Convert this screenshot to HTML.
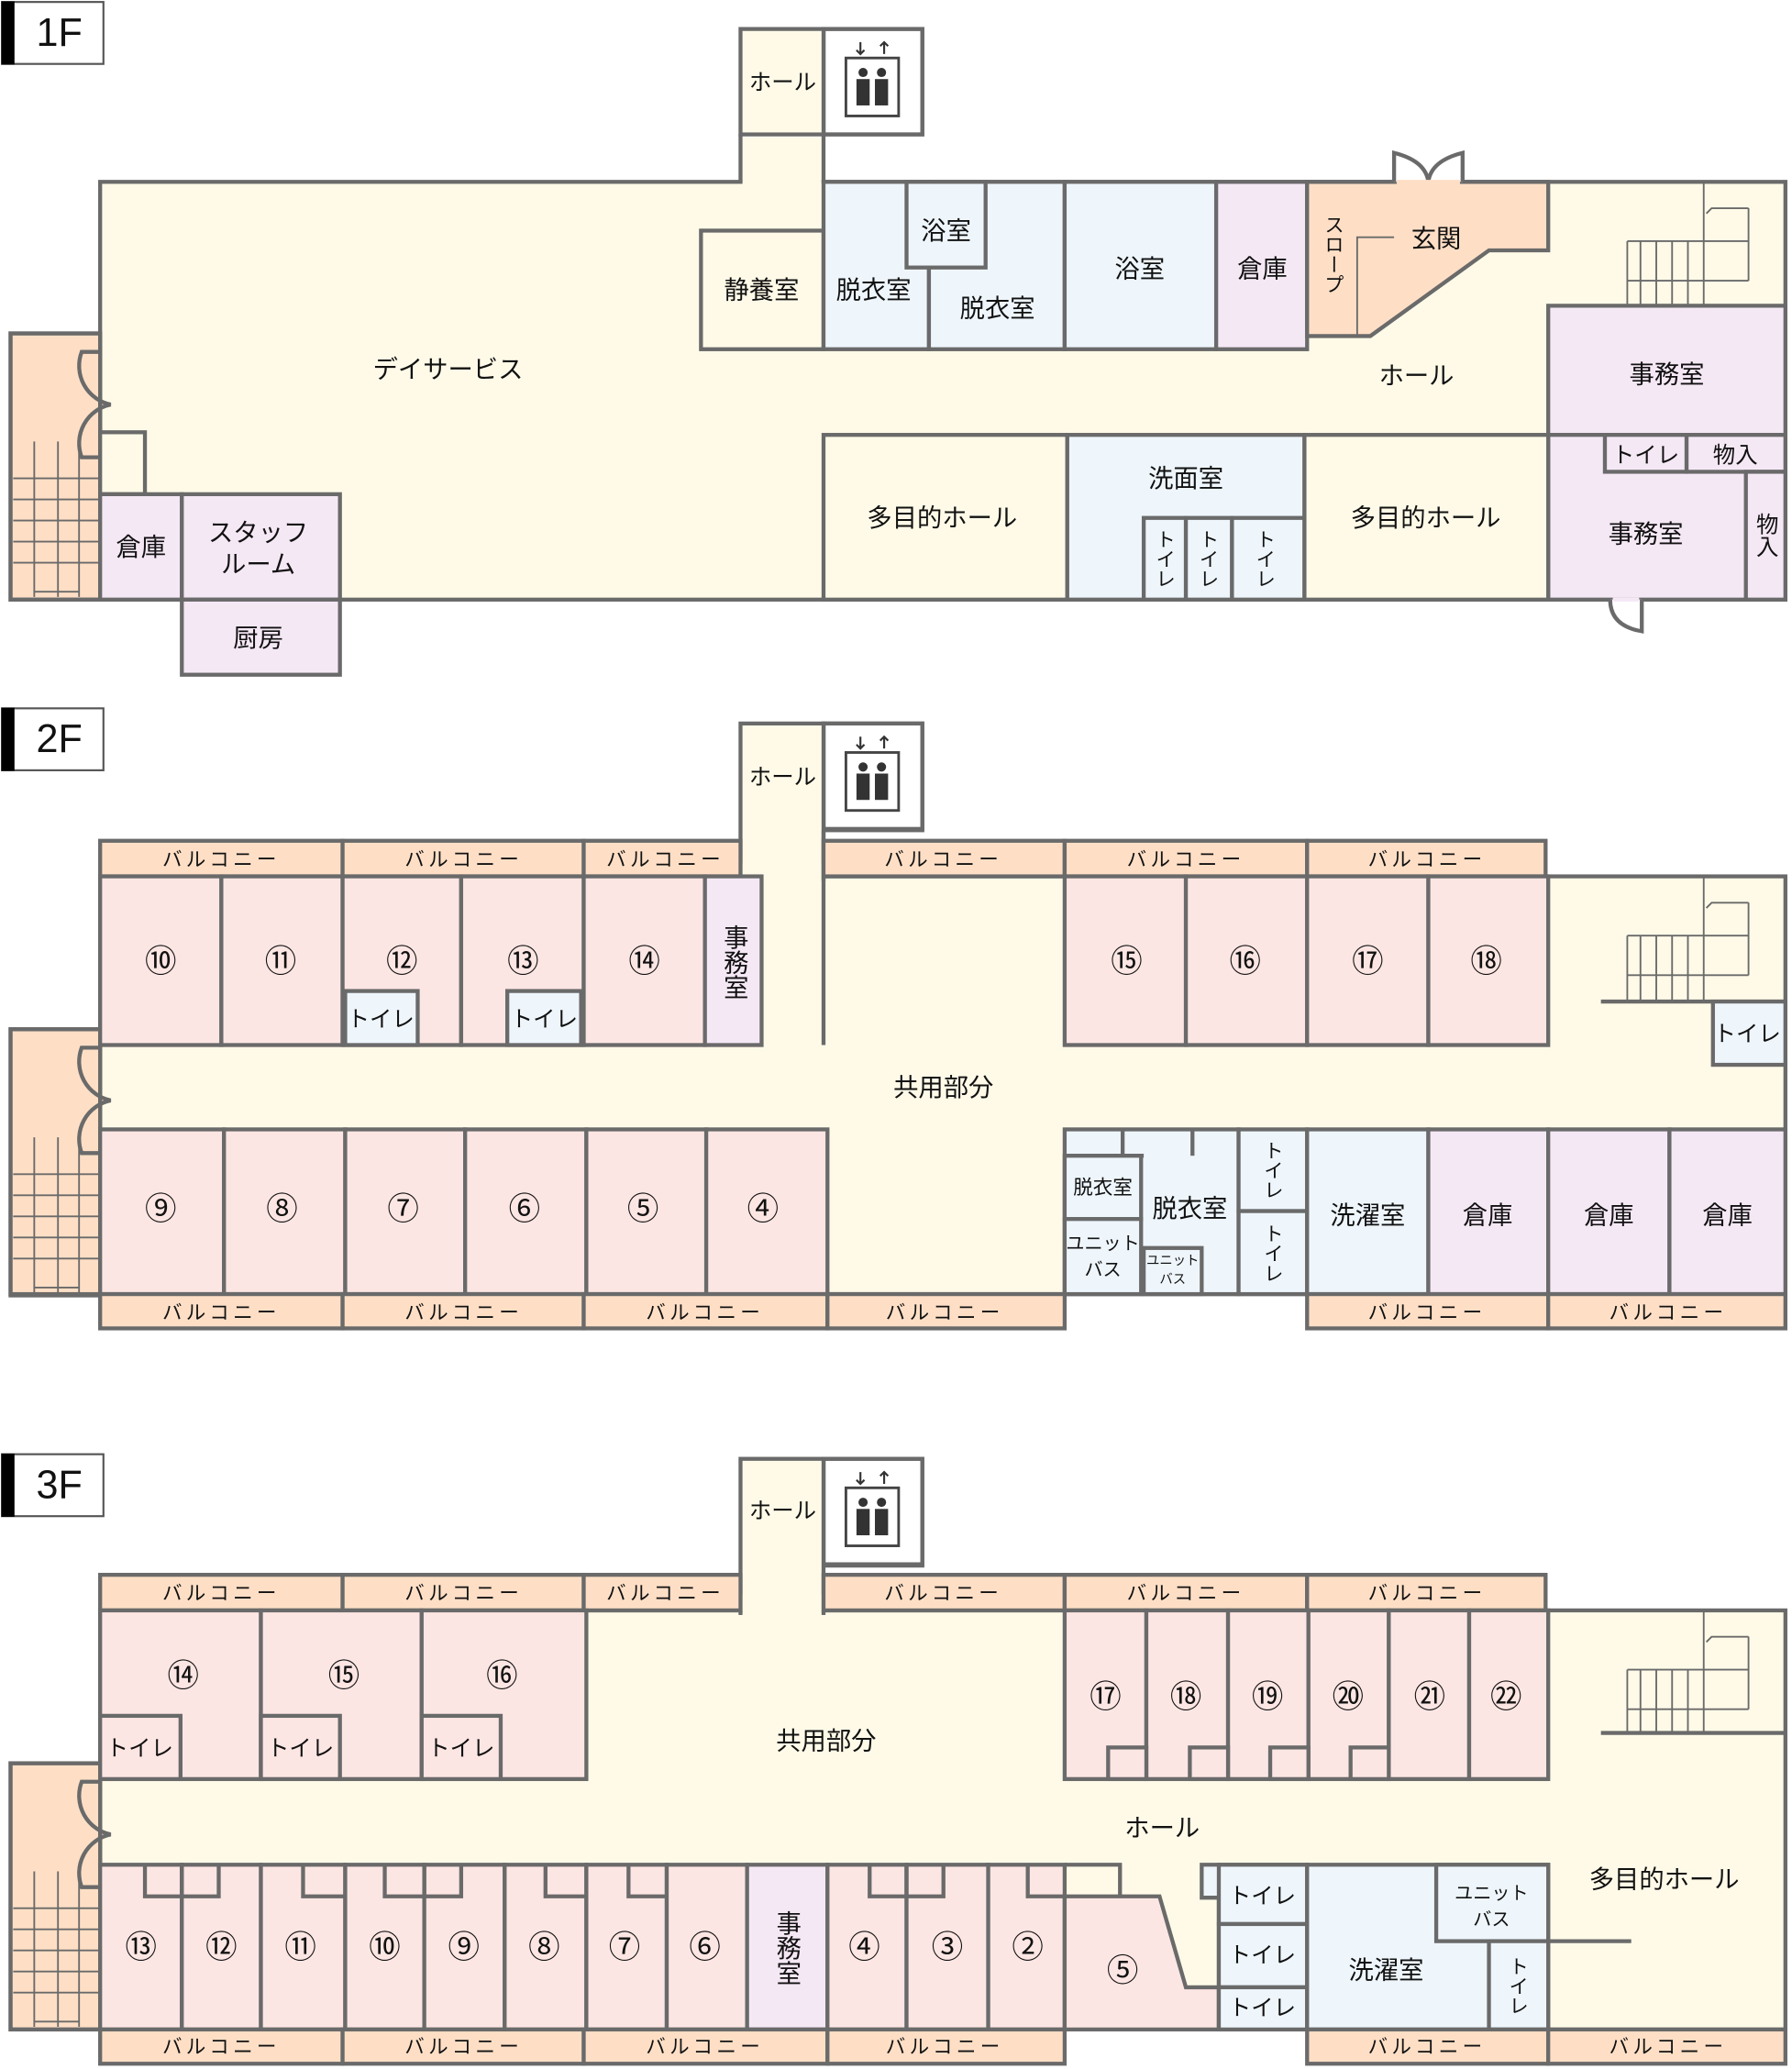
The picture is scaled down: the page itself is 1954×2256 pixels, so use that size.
<!DOCTYPE html>
<html><head><meta charset="utf-8"><style>
html,body{margin:0;padding:0;background:#fff}
svg{display:block}
text{font-family:"Liberation Sans","Noto Sans CJK JP",sans-serif;fill:#111;text-anchor:middle;dominant-baseline:central}
.c{fill:#fffae8}.p{fill:#fce6e3}.b{fill:#eef6fc}.l{fill:#f5e8f5}.o{fill:#fedfc6}.w{fill:#fff}
rect,polygon,path.s{stroke:#6a6a6a;stroke-width:3}
rect.ns{stroke:none}
line.s,polyline.s{stroke:#6a6a6a;stroke-width:3;fill:none}
.t{stroke:#6a6a6a;stroke-width:1.3;fill:none}
.bal{font-size:15px;letter-spacing:3px}
.n{font-size:19px}
.cn{font-size:24px}
.f{font-size:17px}
</style></head><body>
<svg width="1954" height="2256" viewBox="0 0 1360 1570" preserveAspectRatio="none" xmlns="http://www.w3.org/2000/svg">
<defs>
<g id="elev">
<rect x="0" y="0" width="75" height="80" class="w"/>
<rect x="17" y="22" width="40" height="44" fill="#fff" stroke="#444" style="stroke:#444;stroke-width:2"/>
<circle cx="30" cy="33" r="3.5" fill="#333"/><circle cx="44" cy="33" r="3.5" fill="#333"/>
<rect x="25" y="38" width="10" height="20" fill="#333" style="stroke:none"/><rect x="39" y="38" width="10" height="20" fill="#333" style="stroke:none"/>
<path d="M28 10 v9 M25 16 l3 3 3-3 M46 19 v-9 M43 13 l3-3 3 3" stroke="#333" stroke-width="1.5" fill="none"/>
</g>
<g id="lstair">
<rect x="0" y="0" width="68" height="202" class="o"/>
<path d="M68 14 h-14 a30 30 0 0 0 22 40 a30 30 0 0 0 -22 40 h14" stroke="#6a6a6a" stroke-width="3" fill="#fedfc6"/>
<path class="t" d="M18 82 V200 M36 82 V200 M52 82 V200 M2 110 H68 M2 126 H68 M2 142 H68 M2 158 H68 M2 174 H68 M18 196 H52 V110"/>
</g>
<g id="rstair">
<path class="t" d="M118 0 V94 M60 45 H152 M60 75 H152 M60 45 V94 M70 45 V94 M82 45 V94 M94 45 V94 M106 45 V94 M152 20 V75 M152 20 H124 l-4 4"/>
</g>
</defs>

<!-- ============ 1F ============ -->
<rect x="1.5" y="1.5" width="77" height="47" fill="#fff" style="stroke:#555;stroke-width:1.5"/>
<rect x="1" y="1" width="10" height="48" fill="#000" class="ns"/>
<text x="45" y="25" style="font-size:30px">1F</text>

<use href="#elev" x="625" y="22"/>
<rect x="625" y="22" width="75" height="80" fill="none"/>
<rect x="562" y="22" width="63" height="80" class="c"/>
<text x="594" y="63" class="f">ホール</text>

<rect x="76" y="138" width="1279" height="317" class="c"/>
<rect x="563.5" y="104" width="60" height="38" class="c ns"/>
<line class="s" x1="562" y1="102" x2="562" y2="138"/><line class="s" x1="625" y1="102" x2="625" y2="138"/>
<rect x="8" y="253" width="68" height="202" class="o ns"/>
<use href="#lstair" x="8" y="253"/>
<rect x="8" y="253" width="68" height="202" fill="none"/>
<text x="340" y="280" class="n">デイサービス</text>
<text x="1075" y="285" class="n">ホール</text>
<rect x="76" y="328" width="34" height="47" class="c"/>
<rect x="76" y="375" width="62" height="80" class="l"/><text x="107" y="415" class="n">倉庫</text>
<rect x="138" y="375" width="120" height="80" class="l"/><text x="196" y="404" class="n">スタッフ</text><text x="196" y="428" class="n">ルーム</text>
<rect x="138" y="455" width="120" height="57" class="l"/><text x="196" y="484" class="n">厨房</text>

<rect x="532" y="175" width="93" height="90" class="c"/><text x="578" y="220" class="n">静養室</text>
<rect x="625" y="138" width="80" height="127" class="b"/><text x="663" y="220" class="n">脱衣室</text>
<rect x="705" y="138" width="103" height="127" class="b"/><text x="757" y="234" class="n">脱衣室</text>
<rect x="688" y="138" width="60" height="65" class="b"/><text x="718" y="175" class="n">浴室</text>
<rect x="808" y="138" width="115" height="127" class="b"/><text x="865" y="204" class="n">浴室</text>
<rect x="923" y="138" width="69" height="127" class="l"/><text x="958" y="204" class="n">倉庫</text>
<polygon points="992,138 1175,138 1175,190 1130,190 1040,255 992,255" class="o"/>
<path d="M1058 138 V116 q24 6 26 22 q2 -16 26 -22 V138" stroke="#6a6a6a" stroke-width="3" fill="#fff"/>
<line x1="1060" y1="138" x2="1108" y2="138" stroke="#fedfc6" stroke-width="3"/>
<polyline class="t" points="1058,180 1030,180 1030,255"/>
<text x="1012" y="193" style="font-size:15px;writing-mode:vertical-rl">スロープ</text>
<text x="1090" y="181" class="n">玄関</text>
<use href="#rstair" x="1175" y="138"/>
<rect x="1175" y="232" width="180" height="98" class="l"/><text x="1265" y="284" class="n">事務室</text>
<rect x="1175" y="330" width="180" height="125" class="l"/>
<rect x="1218" y="330" width="62" height="28" class="l"/><text x="1249" y="346" class="f">トイレ</text>
<rect x="1280" y="330" width="75" height="28" class="l"/><text x="1317" y="346" class="f">物入</text>
<rect x="1325" y="358" width="30" height="97" class="l"/><text x="1340" y="406" class="f" style="writing-mode:vertical-rl">物入</text>
<text x="1249" y="405" class="n">事務室</text>
<path d="M1222 455 q0 20 24 24 V455" stroke="#6a6a6a" stroke-width="3" fill="#fff"/>
<line x1="1224" y1="455" x2="1244" y2="455" stroke="#f5e8f5" stroke-width="3"/>
<rect x="625" y="330" width="185" height="125" class="c"/><text x="715" y="393" class="n">多目的ホール</text>
<rect x="810" y="330" width="180" height="125" class="b"/><text x="900" y="363" class="n">洗面室</text>
<rect x="868" y="393" width="32" height="62" class="b"/><rect x="900" y="393" width="35" height="62" class="b"/><rect x="935" y="393" width="55" height="62" class="b"/>
<text x="884" y="424" style="writing-mode:vertical-rl;font-size:15px">トイレ</text>
<text x="917" y="424" style="writing-mode:vertical-rl;font-size:15px">トイレ</text>
<text x="960" y="424" style="writing-mode:vertical-rl;font-size:15px">トイレ</text>
<rect x="990" y="330" width="185" height="125" class="c"/><text x="1082" y="393" class="n">多目的ホール</text>

<!-- ============ 2F ============ -->
<rect x="1.5" y="537.5" width="77" height="47" fill="#fff" style="stroke:#555;stroke-width:1.5"/>
<rect x="1" y="537" width="10" height="48" fill="#000" class="ns"/>
<text x="45" y="561" style="font-size:30px">2F</text>
<use href="#elev" x="625" y="549"/>
<rect x="625" y="549" width="75" height="81" fill="none"/>

<rect x="76" y="665" width="1279" height="317" class="c"/>
<rect x="562" y="549" width="63" height="118" class="c"/>
<rect x="563.5" y="655" width="60" height="14" class="c ns"/>
<line class="s" x1="625" y1="630" x2="625" y2="793"/>
<text x="594" y="590" class="f">ホール</text>
<rect x="8" y="781" width="68" height="201" class="o ns"/>
<use href="#lstair" x="8" y="781"/>
<rect x="8" y="781" width="68" height="201" fill="none"/>
<use href="#rstair" x="1175" y="665"/>
<line class="s" x1="1215" y1="760" x2="1355" y2="760"/>
<rect x="1300" y="760" width="55" height="48" class="b"/><text x="1326" y="785" class="f">トイレ</text>

<g class="bal">
<rect x="76" y="638" width="184" height="27" class="o"/><text x="168" y="652">バルコニー</text>
<rect x="260" y="638" width="183" height="27" class="o"/><text x="352" y="652">バルコニー</text>
<rect x="443" y="638" width="119" height="27" class="o"/><text x="505" y="652">バルコニー</text>
<rect x="625" y="638" width="183" height="27" class="o"/><text x="716" y="652">バルコニー</text>
<rect x="808" y="638" width="184" height="27" class="o"/><text x="900" y="652">バルコニー</text>
<rect x="992" y="638" width="181" height="27" class="o"/><text x="1083" y="652">バルコニー</text>
</g>
<rect x="76" y="665" width="92" height="128" class="p"/><text x="122" y="730" class="cn">⑩</text>
<rect x="168" y="665" width="92" height="128" class="p"/><text x="213" y="730" class="cn">⑪</text>
<rect x="260" y="665" width="90" height="128" class="p"/><text x="305" y="730" class="cn">⑫</text>
<rect x="350" y="665" width="93" height="128" class="p"/><text x="397" y="730" class="cn">⑬</text>
<rect x="443" y="665" width="92" height="128" class="p"/><text x="489" y="730" class="cn">⑭</text>
<rect x="535" y="665" width="43" height="128" class="l"/><text x="557" y="730" class="n" style="writing-mode:vertical-rl">事務室</text>
<rect x="262" y="752" width="55" height="41" class="b"/><text x="289" y="774" class="f">トイレ</text>
<rect x="385" y="752" width="56" height="41" class="b"/><text x="413" y="774" class="f">トイレ</text>
<rect x="808" y="665" width="92" height="128" class="p"/><text x="855" y="730" class="cn">⑮</text>
<rect x="900" y="665" width="92" height="128" class="p"/><text x="945" y="730" class="cn">⑯</text>
<rect x="992" y="665" width="92" height="128" class="p"/><text x="1038" y="730" class="cn">⑰</text>
<rect x="1084" y="665" width="91" height="128" class="p"/><text x="1128" y="730" class="cn">⑱</text>
<text x="716" y="825" class="n">共用部分</text>

<rect x="76" y="857" width="94" height="125" class="p"/><text x="122" y="918" class="cn">⑨</text>
<rect x="170" y="857" width="92" height="125" class="p"/><text x="214" y="918" class="cn">⑧</text>
<rect x="262" y="857" width="91" height="125" class="p"/><text x="306" y="918" class="cn">⑦</text>
<rect x="353" y="857" width="92" height="125" class="p"/><text x="398" y="918" class="cn">⑥</text>
<rect x="445" y="857" width="91" height="125" class="p"/><text x="488" y="918" class="cn">⑤</text>
<rect x="536" y="857" width="92" height="125" class="p"/><text x="579" y="918" class="cn">④</text>
<rect x="808" y="857" width="132" height="125" class="b"/>
<polyline class="s" points="808,877 868,877"/><line class="s" x1="852" y1="857" x2="852" y2="877"/><line class="s" x1="905" y1="857" x2="905" y2="877"/>
<rect x="808" y="877" width="58" height="48" class="b"/><text x="837" y="901" style="font-size:15px">脱衣室</text>
<rect x="808" y="925" width="58" height="57" class="b"/><text x="837" y="944" style="font-size:14px">ユニット</text><text x="837" y="964" style="font-size:14px">バス</text>
<text x="903" y="917" class="n">脱衣室</text>
<rect x="868" y="947" width="44" height="35" class="b"/><text x="890" y="957" style="font-size:10px">ユニット</text><text x="890" y="971" style="font-size:10px">バス</text>
<rect x="940" y="857" width="52" height="62" class="b"/><text x="966" y="888" style="font-size:15px;writing-mode:vertical-rl">トイレ</text>
<rect x="940" y="919" width="52" height="63" class="b"/><text x="966" y="951" style="font-size:15px;writing-mode:vertical-rl">トイレ</text>
<rect x="992" y="857" width="92" height="125" class="b"/><text x="1038" y="922" class="n">洗濯室</text>
<rect x="1084" y="857" width="91" height="125" class="l"/><text x="1129" y="922" class="n">倉庫</text>
<rect x="1175" y="857" width="92" height="125" class="l"/><text x="1221" y="922" class="n">倉庫</text>
<rect x="1267" y="857" width="88" height="125" class="l"/><text x="1311" y="922" class="n">倉庫</text>
<g class="bal">
<rect x="76" y="982" width="184" height="26" class="o"/><text x="168" y="996">バルコニー</text>
<rect x="260" y="982" width="183" height="26" class="o"/><text x="352" y="996">バルコニー</text>
<rect x="443" y="982" width="185" height="26" class="o"/><text x="535" y="996">バルコニー</text>
<rect x="628" y="982" width="180" height="26" class="o"/><text x="717" y="996">バルコニー</text>
<rect x="992" y="982" width="183" height="26" class="o"/><text x="1083" y="996">バルコニー</text>
<rect x="1175" y="982" width="180" height="26" class="o"/><text x="1266" y="996">バルコニー</text>
</g>

<!-- ============ 3F ============ -->
<rect x="1.5" y="1103.5" width="77" height="47" fill="#fff" style="stroke:#555;stroke-width:1.5"/>
<rect x="1" y="1103" width="10" height="48" fill="#000" class="ns"/>
<text x="45" y="1127" style="font-size:30px">3F</text>
<use href="#elev" x="625" y="1107"/>
<rect x="625" y="1107" width="75" height="81" fill="none"/>

<rect x="76" y="1222" width="1279" height="318" class="c"/>
<rect x="562" y="1107" width="63" height="117" class="c"/>
<rect x="563.5" y="1210" width="60" height="16" class="c ns"/>
<text x="594" y="1147" class="f">ホール</text>
<rect x="8" y="1338" width="68" height="202" class="o ns"/>
<use href="#lstair" x="8" y="1338"/>
<rect x="8" y="1338" width="68" height="202" fill="none"/>
<use href="#rstair" x="1175" y="1222"/>
<line class="s" x1="1215" y1="1315" x2="1355" y2="1315"/>

<g class="bal">
<rect x="76" y="1195" width="184" height="27" class="o"/><text x="168" y="1209">バルコニー</text>
<rect x="260" y="1195" width="183" height="27" class="o"/><text x="352" y="1209">バルコニー</text>
<rect x="443" y="1195" width="119" height="27" class="o"/><text x="505" y="1209">バルコニー</text>
<rect x="625" y="1195" width="183" height="27" class="o"/><text x="716" y="1209">バルコニー</text>
<rect x="808" y="1195" width="184" height="27" class="o"/><text x="900" y="1209">バルコニー</text>
<rect x="992" y="1195" width="181" height="27" class="o"/><text x="1083" y="1209">バルコニー</text>
</g>
<rect x="76" y="1222" width="122" height="128" class="p"/><text x="139" y="1272" class="cn">⑭</text>
<rect x="198" y="1222" width="122" height="128" class="p"/><text x="261" y="1272" class="cn">⑮</text>
<rect x="320" y="1222" width="125" height="128" class="p"/><text x="381" y="1272" class="cn">⑯</text>
<rect x="76" y="1302" width="61" height="48" class="p"/><text x="106" y="1327" class="f">トイレ</text>
<rect x="198" y="1302" width="60" height="48" class="p"/><text x="228" y="1327" class="f">トイレ</text>
<rect x="320" y="1302" width="60" height="48" class="p"/><text x="350" y="1327" class="f">トイレ</text>
<text x="627" y="1321" class="n">共用部分</text>
<g>
<rect x="808" y="1222" width="62" height="128" class="p"/><text x="839" y="1288" class="cn">⑰</text>
<rect x="870" y="1222" width="62" height="128" class="p"/><text x="900" y="1288" class="cn">⑱</text>
<rect x="932" y="1222" width="61" height="128" class="p"/><text x="962" y="1288" class="cn">⑲</text>
<rect x="993" y="1222" width="61" height="128" class="p"/><text x="1023" y="1288" class="cn">⑳</text>
<rect x="1054" y="1222" width="61" height="128" class="p"/><text x="1085" y="1288" class="cn">㉑</text>
<rect x="1115" y="1222" width="60" height="128" class="p"/><text x="1143" y="1288" class="cn">㉒</text>
<rect x="841" y="1326" width="29" height="24" class="p"/>
<rect x="903" y="1326" width="29" height="24" class="p"/>
<rect x="964" y="1326" width="29" height="24" class="p"/>
<rect x="1025" y="1326" width="29" height="24" class="p"/>
</g>
<text x="882" y="1387" class="n">ホール</text>

<g>
<rect x="76" y="1415" width="62" height="125" class="p"/><text x="107" y="1478" class="cn">⑬</text>
<rect x="138" y="1415" width="60" height="125" class="p"/><text x="168" y="1478" class="cn">⑫</text>
<rect x="198" y="1415" width="64" height="125" class="p"/><text x="228" y="1478" class="cn">⑪</text>
<rect x="262" y="1415" width="60" height="125" class="p"/><text x="292" y="1478" class="cn">⑩</text>
<rect x="322" y="1415" width="61" height="125" class="p"/><text x="352" y="1478" class="cn">⑨</text>
<rect x="383" y="1415" width="62" height="125" class="p"/><text x="413" y="1478" class="cn">⑧</text>
<rect x="445" y="1415" width="61" height="125" class="p"/><text x="474" y="1478" class="cn">⑦</text>
<rect x="506" y="1415" width="61" height="125" class="p"/><text x="535" y="1478" class="cn">⑥</text>
<rect x="567" y="1415" width="61" height="125" class="l"/><text x="597" y="1478" class="n" style="writing-mode:vertical-rl">事務室</text>
<rect x="628" y="1415" width="60" height="125" class="p"/><text x="656" y="1478" class="cn">④</text>
<rect x="688" y="1415" width="62" height="125" class="p"/><text x="719" y="1478" class="cn">③</text>
<rect x="750" y="1415" width="58" height="125" class="p"/><text x="780" y="1478" class="cn">②</text>
<polyline class="s" points="110,1415 110,1439 166,1439 166,1415"/><line class="s" x1="138" y1="1415" x2="138" y2="1439"/>
<polyline class="s" points="230,1415 230,1439 262,1439"/>
<polyline class="s" points="292,1415 292,1439 350,1439 350,1415"/><line class="s" x1="322" y1="1415" x2="322" y2="1439"/>
<polyline class="s" points="414,1415 414,1439 445,1439"/>
<polyline class="s" points="477,1415 477,1439 506,1439"/>
<polyline class="s" points="660,1415 660,1439 716,1439 716,1415"/><line class="s" x1="688" y1="1415" x2="688" y2="1439"/>
<polyline class="s" points="780,1415 780,1439 808,1439"/>
<polygon points="808,1439 880,1439 900,1508 925,1508 925,1540 808,1540" class="p"/>
<polyline class="s" points="808,1415 850,1415 850,1439"/>
<text x="852" y="1496" class="cn">⑤</text>
</g>
<path d="M912 1415 H992 V1540 H925 V1440 H912 Z" class="b s"/>
<rect x="925" y="1415" width="67" height="45" class="b"/><text x="958" y="1439" class="f">トイレ</text>
<rect x="925" y="1460" width="67" height="48" class="b"/><text x="958" y="1484" class="f">トイレ</text>
<rect x="925" y="1508" width="67" height="32" class="b"/><text x="958" y="1524" class="f">トイレ</text>
<rect x="992" y="1415" width="183" height="125" class="b"/><text x="1052" y="1495" class="n">洗濯室</text>
<rect x="1090" y="1415" width="85" height="58" class="b"/><text x="1132" y="1437" style="font-size:14px">ユニット</text><text x="1132" y="1457" style="font-size:14px">バス</text>
<rect x="1130" y="1473" width="45" height="67" class="b"/><text x="1152" y="1507" style="font-size:15px;writing-mode:vertical-rl">トイレ</text>
<line class="s" x1="1175" y1="1473" x2="1238" y2="1473"/>
<text x="1263" y="1426" class="n">多目的ホール</text>
<g class="bal">
<rect x="76" y="1540" width="184" height="26" class="o"/><text x="168" y="1553">バルコニー</text>
<rect x="260" y="1540" width="183" height="26" class="o"/><text x="352" y="1553">バルコニー</text>
<rect x="443" y="1540" width="185" height="26" class="o"/><text x="535" y="1553">バルコニー</text>
<rect x="628" y="1540" width="180" height="26" class="o"/><text x="717" y="1553">バルコニー</text>
<rect x="992" y="1540" width="183" height="26" class="o"/><text x="1083" y="1553">バルコニー</text>
<rect x="1175" y="1540" width="180" height="26" class="o"/><text x="1266" y="1553">バルコニー</text>
</g>
</svg>
</body></html>
